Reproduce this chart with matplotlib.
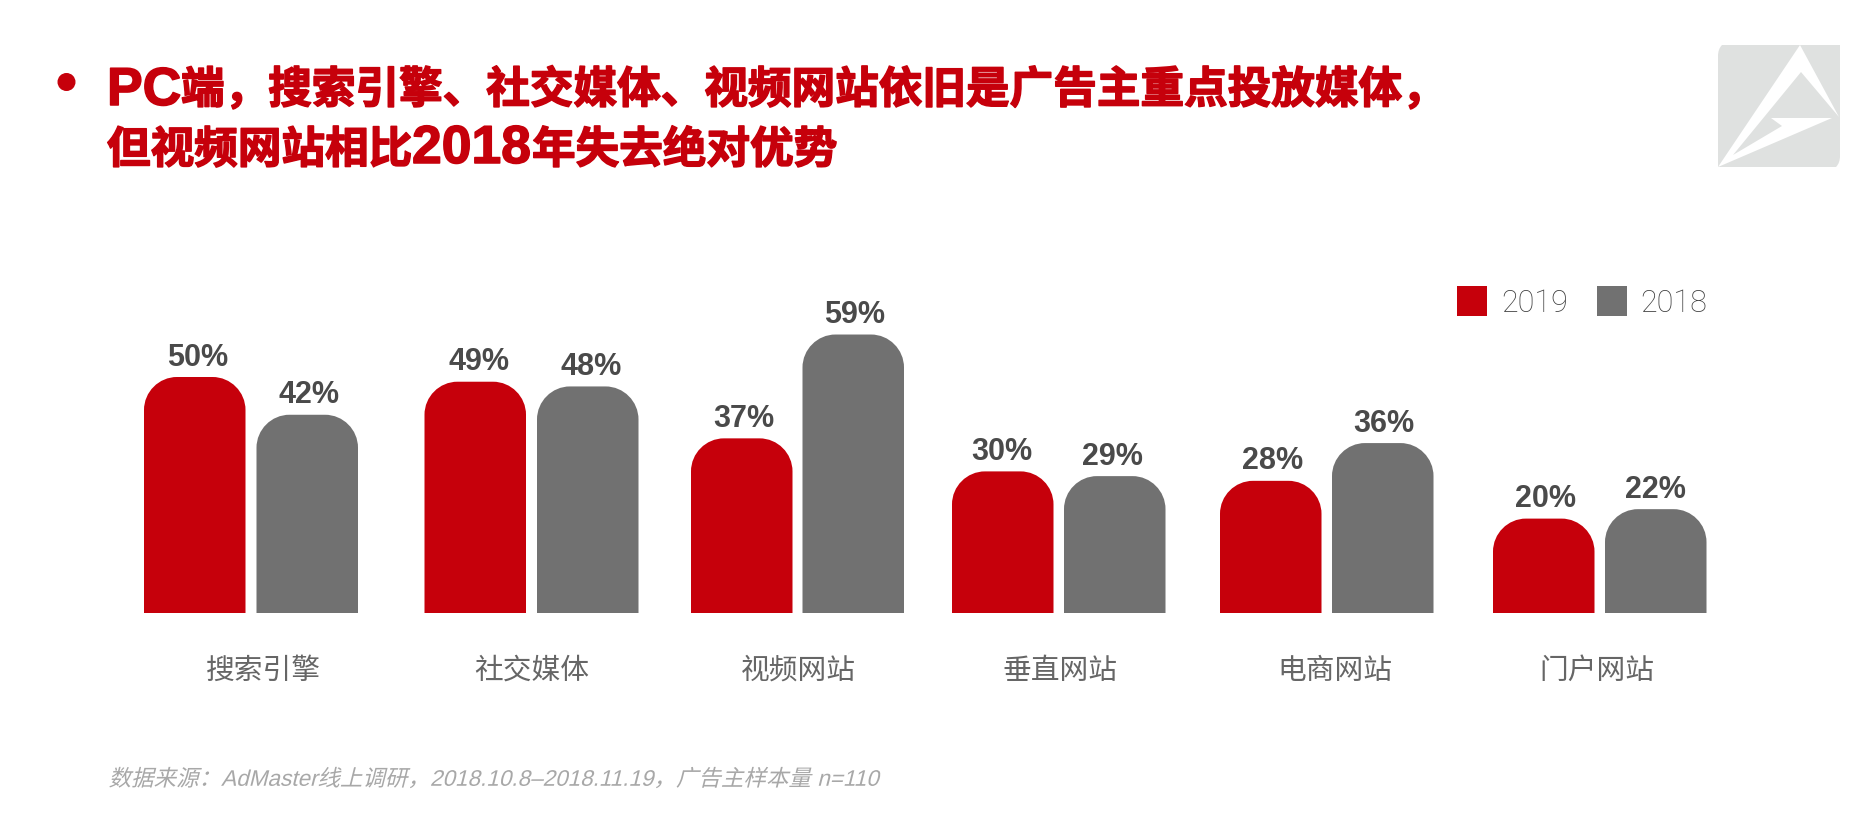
import matplotlib
matplotlib.use('Agg')
import matplotlib.pyplot as plt
from matplotlib.patches import PathPatch, Polygon, Rectangle, Circle
from matplotlib.path import Path
from matplotlib.patheffects import AbstractPathEffect, withStroke
from matplotlib.transforms import Affine2D

W, H = 1876, 824

categories = ['搜索引擎', '社交媒体', '视频网站', '垂直网站', '电商网站', '门户网站']
values_2019 = [50, 49, 37, 30, 28, 20]
values_2018 = [42, 48, 59, 29, 36, 22]

# layout, in pixels
red_left = [144, 424.5, 691, 952, 1220, 1493]
gray_left = [256.5, 537, 802.5, 1064, 1332, 1605]
cat_center = [263, 532, 798, 1060, 1335, 1597]
# the value labels are not quite centred on their bars in the original
red_label_shift = [3, 4, 2, -1, 2, 2]
gray_label_shift = [2, 3, 1, -2, 1, 0]
BAR_W = 101.5
BASE_Y = 613
PX_PER_PCT = 4.72
RADIUS = 33

RED = '#c6000b'
GRAY = '#717171'
DARK = '#4a4a4a'

CJK = 'Noto Sans CJK SC'
LATIN = 'Liberation Sans'


class Skew(AbstractPathEffect):
    """Slant text about its own position, the CJK fonts have no italic"""
    def __init__(self, x, y, angle):
        super().__init__()
        self.x, self.y, self.angle = x, y, angle

    def draw_path(self, renderer, gc, tpath, affine, rgbFace=None):
        skew = Affine2D().translate(-self.x, -self.y).skew_deg(self.angle, 0).translate(self.x, self.y)
        renderer.draw_path(gc, tpath, affine + skew, rgbFace)


def round_top_bar(ax, left, value, color):
    # corners are round in pixels, y axis is in percent
    ry = RADIUS / PX_PER_PCT
    right = left + BAR_W
    k = 0.55
    verts = [(left, 0), (left, value - ry),
             (left, value - ry + k * ry), (left + RADIUS - k * RADIUS, value), (left + RADIUS, value),
             (right - RADIUS, value),
             (right - RADIUS + k * RADIUS, value), (right, value - ry + k * ry), (right, value - ry),
             (right, 0), (left, 0)]
    codes = [Path.MOVETO, Path.LINETO, Path.CURVE4, Path.CURVE4, Path.CURVE4, Path.LINETO,
             Path.CURVE4, Path.CURVE4, Path.CURVE4, Path.LINETO, Path.CLOSEPOLY]
    ax.add_patch(PathPatch(Path(verts, codes), facecolor=color, edgecolor='none'))


def title_piece(ax, x, y, text, latin=False):
    # latin runs are set larger than the CJK ones in the headline
    ax.text(x, y, text, color=RED, fontweight='bold', va='baseline',
            fontsize=38.5 if latin else 31.4, family=LATIN if latin else CJK,
            path_effects=[withStroke(linewidth=1.1, foreground=RED)])


fig = plt.figure(figsize=(W / 100, H / 100), dpi=100, facecolor='white')

# page furniture in pixel coordinates
bg = fig.add_axes([0, 0, 1, 1])
bg.set_xlim(0, W)
bg.set_ylim(H, 0)
bg.axis('off')

bg.add_patch(Circle((66.5, 82), 8.3, color=RED))
title_piece(bg, 107, 105, 'PC', latin=True)
title_piece(bg, 181, 103, '端，搜索引擎、社交媒体、视频网站依旧是广告主重点投放媒体，')
title_piece(bg, 107, 163, '但视频网站相比')
title_piece(bg, 412, 163, '2018', latin=True)
title_piece(bg, 532, 163, '年失去绝对优势')

# logo
logo_path = Path([(1718, 167), (1718, 56), (1718, 49), (1722, 45), (1729, 45), (1840, 45), (1840, 156),
                  (1840, 163), (1836, 167), (1829, 167), (1718, 167)],
                 [Path.MOVETO, Path.LINETO, Path.CURVE3, Path.CURVE3, Path.LINETO, Path.LINETO, Path.LINETO,
                  Path.CURVE3, Path.CURVE3, Path.LINETO, Path.CLOSEPOLY])
logo_verts = [(1718, 167), (1800, 45), (1839, 117), (1801, 72), (1733, 155), (1782, 126), (1771, 118), (1832, 118)]
bg.add_patch(PathPatch(logo_path, facecolor='#dfe1e0', edgecolor='none'))
bg.add_patch(Polygon(logo_verts, closed=True, facecolor='white', edgecolor='none'))

# legend
bg.add_patch(Rectangle((1457, 286), 30, 30, facecolor=RED, edgecolor='none'))
bg.add_patch(Rectangle((1597, 286), 30, 30, facecolor=GRAY, edgecolor='none'))
bg.text(1501, 303, '2019', color='#404040', fontsize=22, family='Roboto', fontweight='light', va='center')
bg.text(1640, 303, '2018', color='#404040', fontsize=22, family='Roboto', fontweight='light', va='center')

# footer
foot_x, foot_y = 110, 780
bg.text(foot_x, foot_y, '数据来源：AdMaster线上调研，2018.10.8–2018.11.19，广告主样本量 n=110', color='#a8a8a8',
        fontsize=16.2, family=[LATIN, CJK], va='center',
        path_effects=[Skew(foot_x, H - foot_y, 14)])

# bars
ax = fig.add_axes([0, (H - BASE_Y) / H, 1, 60 * PX_PER_PCT / H])
ax.set_xlim(0, W)
ax.set_ylim(0, 60)
ax.patch.set_alpha(0)
for side in ax.spines.values():
    side.set_visible(False)
ax.set_yticks([])
ax.set_xticks(cat_center, categories, family=CJK, fontsize=20.7, color='#666666')
ax.tick_params(axis='x', length=0, pad=31)

for lefts, vals, shifts, color in [(red_left, values_2019, red_label_shift, RED),
                                   (gray_left, values_2018, gray_label_shift, GRAY)]:
    for left, v, shift in zip(lefts, vals, shifts):
        round_top_bar(ax, left, v, color)
        ax.annotate(f'{v}%', (left + BAR_W / 2, v), xytext=(shift, 11.5), textcoords='offset pixels',
                    ha='center', va='baseline', fontsize=22, fontweight='bold', family=LATIN,
                    color=DARK, annotation_clip=False)

fig.savefig('out.png', dpi=100)
